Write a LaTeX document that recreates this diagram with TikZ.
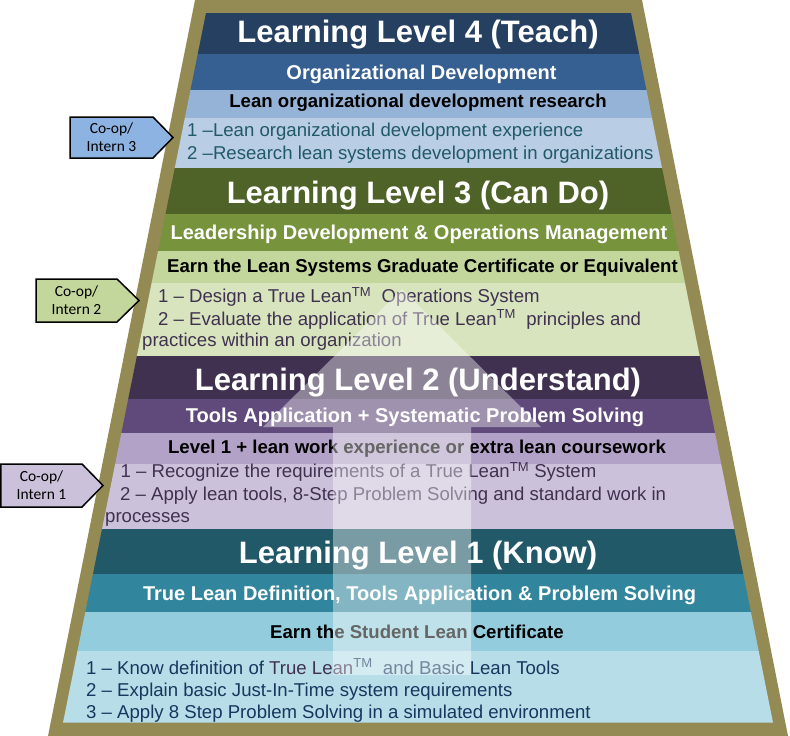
\documentclass[tikz,border=0pt]{standalone}
\usepackage{fontspec}
\setmainfont{Liberation Sans}
\newfontfamily\coopfont{Carlito}
\usepackage{xcolor}
\usepackage{tikz}
\usetikzlibrary{
  positioning,
  calc}

\definecolor{frame}{HTML}{948A54}
\definecolor{fourA}{HTML}{254061}
\definecolor{fourB}{HTML}{366092}
\definecolor{fourC}{HTML}{95B3D7}
\definecolor{fourD}{HTML}{B9CDE5}
\definecolor{threeA}{HTML}{4F6228}
\definecolor{threeB}{HTML}{77933C}
\definecolor{threeC}{HTML}{C3D69B}
\definecolor{threeD}{HTML}{D7E4BD}
\definecolor{twoA}{HTML}{403151}
\definecolor{twoB}{HTML}{604A7B}
\definecolor{twoC}{HTML}{B3A2C7}
\definecolor{twoD}{HTML}{CCC1DA}
\definecolor{oneA}{HTML}{215968}
\definecolor{oneB}{HTML}{31859C}
\definecolor{oneC}{HTML}{93CDDD}
\definecolor{oneD}{HTML}{B7DEE8}
\definecolor{coopblue}{HTML}{8DB3E2}
\definecolor{navytext}{HTML}{17375E}

\newcommand{\tmark}{\textsuperscript{TM}}

\tikzset{level title/.style={font=\bfseries\fontsize{31}{36}\selectfont, text=white, inner sep=0pt, anchor=base},
         level sub/.style={font=\bfseries\fontsize{20}{24}\selectfont, text=white, inner sep=0pt, anchor=base},
         level cert/.style={font=\bfseries\fontsize{18.6}{22}\selectfont, text=black, inner sep=0pt, anchor=base},
         goal/.style={font=\fontsize{18.6}{22}\selectfont, inner sep=0pt, anchor=base west},
         coop/.style={draw=black, line width=1.5pt},
         coop text/.style={font=\coopfont\fontsize{15.5}{17.7}\selectfont, align=center, inner sep=0pt}
        }

\begin{document}
\begin{tikzpicture}[x=1pt, y=-1pt]
\useasboundingbox (0,0) rectangle (790,736);

%Frame
\fill[frame] (195,0) -- (642,0) -- (788,736) -- (48,736) -- cycle;

\begin{scope}
\clip (206,13) -- (631,13) -- (773,722.7) -- (63,722.7) -- cycle;
\fill[fourA] (0,13) rectangle (790,54);
\fill[fourB] (0,54) rectangle (790,90);
\fill[fourC] (0,90) rectangle (790,118);
\fill[fourD] (0,118) rectangle (790,168);
\fill[threeA] (0,168) rectangle (790,214);
\fill[threeB] (0,214) rectangle (790,250.5);
\fill[threeC] (0,250.5) rectangle (790,283);
\fill[threeD] (0,283) rectangle (790,356);
\fill[twoA] (0,356) rectangle (790,399);
\fill[twoB] (0,399) rectangle (790,433);
\fill[twoC] (0,433) rectangle (790,464);
\fill[twoD] (0,464) rectangle (790,529);
\fill[oneA] (0,529) rectangle (790,574);
\fill[oneB] (0,574) rectangle (790,612);
\fill[oneC] (0,612) rectangle (790,651);
\fill[oneD] (0,651) rectangle (790,723);
\end{scope}

%Level 4
\node[level title] (L4) at (418,42.7) {Learning Level 4 (Teach)};
\node[level sub] (L4sub) at (421.5,79) {Organizational Development};
\node[level cert] (L4cert) at (418,107.7) {Lean organizational development research};
\node[goal, text=oneA] (L4a) at (187,136.7) {1 –Lean organizational development experience};
\node[goal, text=oneA] (L4b) at (187,159.3) {2 –Research lean systems development in organizations};

%Level 3
\node[level title] (L3) at (418,203.3) {Learning Level 3 (Can Do)};
\node[level sub] (L3sub) at (419,239.3) {Leadership Development \& Operations Management};
\node[level cert] (L3cert) at (422.5,272.7) {Earn the Lean Systems Graduate Certificate or Equivalent};
\node[goal, text=twoA] (L3a) at (158,302.7) {1 – Design a True Lean\tmark\ \ Operations System};
\node[goal, text=twoA] (L3b) at (158,325) {2 – Evaluate the application of True Lean\tmark\ \ principles and};
\node[goal, text=twoA] (L3c) at (142,346.7) {practices within an organization};

%Level 2
\node[level title] (L2) at (418,390) {Learning Level 2 (Understand)};
\node[level sub] (L2sub) at (415,422.7) {Tools Application + Systematic Problem Solving};
\node[level cert] (L2cert) at (417,453.3) {Level 1 + lean work experience or extra lean coursework};
\node[goal, text=twoA] (L2a) at (120.5,477.7) {1 – Recognize the requirements of a True Lean\tmark\ System};
\node[goal, text=twoA] (L2b) at (120,500.2) {2 – Apply lean tools, 8-Step Problem Solving and standard work in};
\node[goal, text=twoA] (L2c) at (105,522.5) {processes};

%Level 1
\node[level title] (L1) at (418,563.3) {Learning Level 1 (Know)};
\node[level sub] (L1sub) at (419.5,600) {True Lean Definition, Tools Application \& Problem Solving};
\node[level cert] (L1cert) at (417,638.3) {Earn the Student Lean Certificate};
\node[goal, text=navytext] (L1a) at (86,674) {1 – Know definition of {\color{twoA}True Lean}\tmark\ \ and Basic Lean Tools};
\node[goal, text=navytext] (L1b) at (86,696.5) {2 – Explain basic Just-In-Time system requirements};
\node[goal, text=navytext] (L1c) at (86,718.7) {3 – Apply 8 Step Problem Solving in a simulated environment};

%Arrow
\fill[white, fill opacity=0.4] (333,675) -- (333,427) -- (263,427) -- (402,289) -- (541,427) -- (471,427) -- (471,675) -- cycle;

%Co-op boxes
\draw[coop, fill=coopblue] (70,117) -- (153,117) -- (173,137.5) -- (153,158) -- (70,158) -- cycle;
\node[coop text] (intern3) at (111.5,137.5) {Co-op/\\Intern 3};
\draw[coop, fill=threeC] (36,279) -- (117,279) -- (139,300.5) -- (117,322) -- (36,322) -- cycle;
\node[coop text] (intern2) at (76.5,300.5) {Co-op/\\Intern 2};
\draw[coop, fill=twoD] (0.75,464) -- (82,464) -- (103,485.5) -- (82,507) -- (0.75,507) -- cycle;
\node[coop text] (intern1) at (41.5,485.5) {Co-op/\\Intern 1};
\end{tikzpicture}
\end{document}
